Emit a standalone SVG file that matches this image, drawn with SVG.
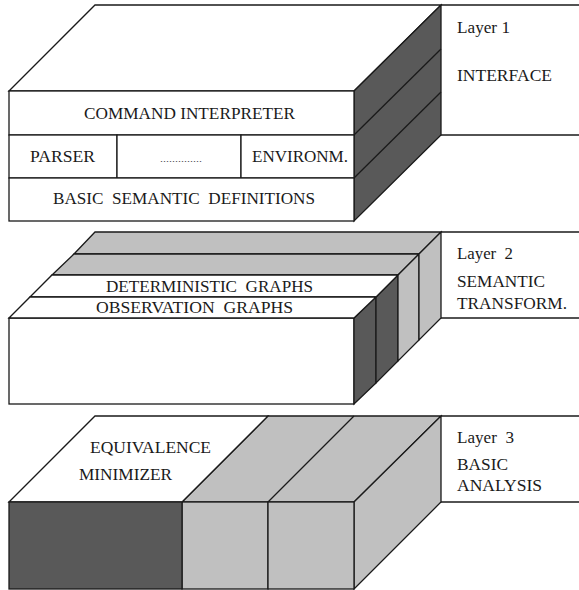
<svg xmlns="http://www.w3.org/2000/svg" width="579" height="590" viewBox="0 0 579 590">
  <style>
    .ln { stroke: #1a1a1a; stroke-width: 1.3; stroke-linejoin: miter; fill: none; }
    .w { fill: #ffffff; stroke: #1a1a1a; stroke-width: 1.3; }
    .d { fill: #595959; stroke: #1a1a1a; stroke-width: 1.3; }
    .g { fill: #c0c0c0; stroke: #1a1a1a; stroke-width: 1.3; }
  </style>
  <rect width="579" height="590" fill="#ffffff"/>

  <!-- Layer 1: interface block -->
  <g id="layer1">
    <polygon class="w" points="9,91 95,5 441,5 354,91"/>
    <polygon class="d" points="354,91 441,5 441,135 354,221"/>
    <line class="ln" x1="354" y1="135" x2="441" y2="49"/>
    <line class="ln" x1="354" y1="178" x2="441" y2="92"/>
    <line class="ln" x1="441" y1="5" x2="579" y2="5"/>
    <line class="ln" x1="441" y1="135" x2="579" y2="135"/>
  </g>
  <g font-family="Liberation Serif, DejaVu Serif, serif" font-size="16" fill="#1a1a1a">
  <g id="command-interpreter">
    <rect class="w" x="9" y="91" width="345" height="44"/>
    <text x="84" y="119" textLength="211" lengthAdjust="spacingAndGlyphs">COMMAND INTERPRETER</text>
  </g>
  <g id="parser">
    <rect class="w" x="9" y="135" width="108" height="43"/>
    <text x="30" y="162" textLength="65" lengthAdjust="spacingAndGlyphs">PARSER</text>
  </g>
  <g id="other-modules">
    <rect class="w" x="117" y="135" width="124" height="43"/>
    <text x="160" y="162" font-size="9" textLength="42" lengthAdjust="spacingAndGlyphs">..............</text>
  </g>
  <g id="environment">
    <rect class="w" x="241" y="135" width="113" height="43"/>
    <text x="252" y="162" textLength="96" lengthAdjust="spacingAndGlyphs">ENVIRONM.</text>
  </g>
  <g id="basic-semantic-definitions">
    <rect class="w" x="9" y="178" width="345" height="43"/>
    <text x="53" y="204" textLength="262" lengthAdjust="spacingAndGlyphs" xml:space="preserve">BASIC  SEMANTIC  DEFINITIONS</text>
  </g>
  <g id="label1">
    <text x="457" y="33" textLength="53" lengthAdjust="spacingAndGlyphs">Layer 1</text>
    <text x="457" y="81" textLength="95" lengthAdjust="spacingAndGlyphs">INTERFACE</text>
  </g>

  <!-- Layer 2: semantic transformations -->
  <g id="layer2">
    <rect class="w" x="9" y="318" width="345" height="86"/>
    <polygon class="g" points="74,254 95,232 441,232 419,254"/>
    <polygon class="g" points="52,275 74,254 419,254 398,275"/>
    <polygon class="d" points="354,318 376,297 376,383 354,404"/>
    <polygon class="d" points="376,297 398,275 398,361 376,383"/>
    <polygon class="g" points="398,275 419,254 419,340 398,361"/>
    <polygon class="g" points="419,254 441,232 441,318 419,340"/>
    <line class="ln" x1="441" y1="232" x2="579" y2="232"/>
    <line class="ln" x1="441" y1="318" x2="579" y2="318"/>
  </g>
  <g id="deterministic-graphs">
    <polygon class="w" points="30,297 52,275 398,275 376,297"/>
    <text x="106" y="292" textLength="207" lengthAdjust="spacingAndGlyphs" xml:space="preserve">DETERMINISTIC  GRAPHS</text>
  </g>
  <g id="observation-graphs">
    <polygon class="w" points="9,318 30,297 376,297 354,318"/>
    <text x="96" y="313" textLength="197" lengthAdjust="spacingAndGlyphs" xml:space="preserve">OBSERVATION  GRAPHS</text>
  </g>
  <g id="label2">
    <text x="457" y="259" textLength="56" lengthAdjust="spacingAndGlyphs" xml:space="preserve">Layer  2</text>
    <text x="457" y="287" textLength="88" lengthAdjust="spacingAndGlyphs">SEMANTIC</text>
    <text x="457" y="309" textLength="110" lengthAdjust="spacingAndGlyphs">TRANSFORM.</text>
  </g>

  <!-- Layer 3: basic analysis -->
  <g id="layer3">
    <polygon class="g" points="182,502 268,416 441,416 354,502"/>
    <line class="ln" x1="268" y1="502" x2="354" y2="416"/>
    <polygon class="g" points="354,502 441,416 441,502 354,589"/>
    <rect class="g" x="182" y="502" width="86" height="87"/>
    <rect class="g" x="268" y="502" width="86" height="87"/>
    <line class="ln" x1="441" y1="416" x2="579" y2="416"/>
    <line class="ln" x1="441" y1="502" x2="579" y2="502"/>
  </g>
  <g id="equivalence-minimizer">
    <polygon class="w" points="9,502 95,416 268,416 182,502"/>
    <rect class="d" x="9" y="502" width="173" height="87"/>
    <text x="90" y="453" textLength="121" lengthAdjust="spacingAndGlyphs">EQUIVALENCE</text>
    <text x="79" y="480" textLength="93" lengthAdjust="spacingAndGlyphs">MINIMIZER</text>
  </g>
  <g id="label3">
    <text x="457" y="443" textLength="57" lengthAdjust="spacingAndGlyphs" xml:space="preserve">Layer  3</text>
    <text x="457" y="470" textLength="51" lengthAdjust="spacingAndGlyphs">BASIC</text>
    <text x="457" y="491" textLength="85" lengthAdjust="spacingAndGlyphs">ANALYSIS</text>
  </g>
  </g>
</svg>
